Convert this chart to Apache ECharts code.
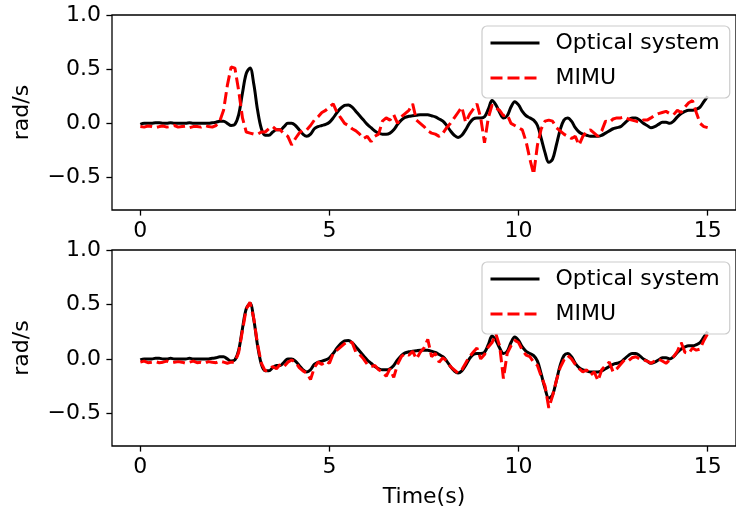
<!DOCTYPE html>
<html>
<head>
<meta charset="utf-8">
<script src="https://cdn.jsdelivr.net/npm/echarts@6/dist/echarts.min.js"></script>
<style>
  html, body { margin: 0; padding: 0; background: #fff; }
  #main { width: 736px; height: 518px; }
</style>
</head>
<body>
<div id="main"></div>
<script>
// sampled every 0.1 s, 0 .. 15 s
const optical = [
  -0.01, 0.0, 0.0, 0.0, 0.005, 0.005, 0.0, 0.0, 0.005, 0.0,
  0.0, 0.0, 0.0, 0.005, 0.0, 0.0, 0.0, 0.0, 0.0, 0.005,
  0.01, 0.02, 0.02, 0.0, -0.02, -0.01, 0.08, 0.28, 0.46, 0.51,
  0.36, 0.12, -0.05, -0.11, -0.11, -0.08, -0.06, -0.06, -0.03, 0.0,
  0.0, -0.02, -0.06, -0.1, -0.12, -0.1, -0.05, -0.03, -0.02, -0.01,
  0.01, 0.05, 0.1, 0.14, 0.165, 0.17, 0.15, 0.11, 0.07, 0.03,
  -0.01, -0.04, -0.07, -0.09, -0.1, -0.1, -0.09, -0.06, -0.01, 0.03,
  0.055, 0.065, 0.07, 0.075, 0.08, 0.08, 0.08, 0.07, 0.06, 0.04,
  0.02, -0.02, -0.07, -0.11, -0.13, -0.11, -0.06, 0.0, 0.04, 0.05,
  0.05, 0.06, 0.13, 0.21, 0.17, 0.1, 0.05, 0.07, 0.15, 0.2,
  0.17, 0.11, 0.07, 0.05, 0.03, -0.02, -0.14, -0.27, -0.36, -0.33,
  -0.2, -0.06, 0.03, 0.05, 0.02, -0.04, -0.08, -0.1, -0.11, -0.12,
  -0.12, -0.12, -0.11, -0.09, -0.07, -0.05, -0.04, -0.03, 0.0, 0.03,
  0.05, 0.05, 0.03, 0.0, -0.02, -0.04, -0.03, -0.01, 0.01, 0.01,
  0.0, 0.02, 0.06, 0.09, 0.11, 0.12, 0.12, 0.13, 0.15, 0.2, 0.25
];

const mimuTop = [
  -0.03, -0.035, -0.025, -0.03, -0.04, -0.03, -0.025, -0.035, -0.03, -0.02,
  -0.035, -0.03, -0.025, -0.04, -0.03, -0.03, -0.035, -0.02, -0.03, -0.035,
  -0.02, 0.02, 0.12, 0.35, 0.52, 0.51, 0.3, 0.05, -0.08, -0.09,
  -0.1, -0.1, -0.08, -0.08, -0.05, -0.03, -0.06, -0.06, -0.1, -0.12,
  -0.2, -0.14, -0.09, -0.06, -0.06, -0.02, 0.03, 0.06, 0.1, 0.12,
  0.15, 0.18, 0.1, 0.05, 0.0, -0.02, -0.05, -0.07, -0.1, -0.14,
  -0.12, -0.17, -0.12, -0.1, 0.02, 0.05, 0.03, 0.08, 0.0, 0.06,
  0.09, 0.12, 0.18, 0.03, 0.0, -0.03, -0.07, -0.09, -0.1, -0.12,
  -0.09, -0.04, 0.0, 0.05, 0.1, 0.15, 0.01, 0.08, 0.13, 0.18,
  0.05, -0.18, 0.05, 0.17, 0.14, 0.12, 0.07, 0.08, 0.0, -0.02,
  -0.04, -0.06, -0.17, -0.33, -0.47, -0.2, -0.05, 0.02, 0.03, 0.02,
  -0.04, -0.07, -0.1, -0.12, -0.14, -0.12, -0.2, -0.12, -0.08, -0.06,
  -0.09, -0.12, -0.07, 0.02, 0.01, 0.04, 0.05, 0.05, 0.06, 0.04,
  0.03, 0.02, 0.01, 0.03, 0.03, 0.05, 0.075, 0.09, 0.1, 0.11,
  0.09, 0.08, 0.12, 0.1, 0.15, 0.19, 0.21, 0.1, 0.0, -0.03, -0.04
];

const mimuBottom = [
  -0.03, -0.02, -0.035, -0.03, -0.025, -0.035, -0.03, -0.02, -0.035, -0.03,
  -0.025, -0.03, -0.04, -0.03, -0.02, -0.035, -0.03, -0.04, -0.025, -0.03,
  -0.035, -0.02, -0.03, -0.04, -0.03, -0.03, 0.06, 0.26, 0.46, 0.52,
  0.37, 0.13, -0.04, -0.11, -0.1, -0.07, -0.09, -0.05, -0.07, -0.03,
  -0.01, -0.03, -0.08, -0.11, -0.13, -0.19, -0.08, -0.03, -0.05, -0.02,
  -0.04, 0.05, 0.08, 0.11, 0.14, 0.16, 0.15, 0.06, 0.04, 0.0,
  -0.05, -0.07, -0.06, -0.1, -0.12, -0.16, -0.09, -0.17, -0.05, 0.02,
  0.05, 0.035, 0.07, 0.0, 0.06, 0.1, 0.18, 0.02, 0.05, -0.03,
  0.01, -0.02, -0.07, -0.1, -0.13, -0.1, -0.04, 0.02, 0.06, 0.1,
  0.0, 0.04, 0.11, 0.15, 0.23, 0.12, -0.18, 0.05, 0.12, 0.17,
  0.15, 0.08, 0.035, 0.02, -0.03, -0.06, -0.16, -0.25, -0.45, -0.34,
  -0.2, -0.08, -0.01, 0.03, 0.0, -0.05, -0.09, -0.12, -0.1, -0.15,
  -0.12, -0.2, -0.1, -0.06, -0.03, -0.12, -0.09, -0.05, -0.01, -0.02,
  0.01, 0.02, 0.0, -0.01, -0.02, -0.04, -0.02, 0.0, -0.02, -0.04,
  -0.01, 0.02, 0.07, 0.15, 0.06, 0.05, 0.1, 0.08, 0.09, 0.17, 0.23
];

const xTicks = [0, 5, 10, 15];
const yTicks = [-0.5, 0, 0.5, 1.0];

const time = optical.map((_, i) => +(i * 0.1).toFixed(1));
const pairs = (vals) => vals.map((v, i) => [time[i], v]);

const font = 'DejaVu Sans';
const fs = 22;

function xAxisOf(gridIndex, withName) {
  return {
    type: 'value', gridIndex: gridIndex, min: -0.75, max: 15.75,
    name: withName ? 'Time(s)' : '', nameLocation: 'middle', nameGap: 40,
    nameTextStyle: { fontFamily: font, fontSize: fs, color: '#000' },
    axisLine: { show: false, onZero: false },
    splitLine: { show: false },
    axisTick: { show: true, customValues: xTicks, length: 5.6, lineStyle: { color: '#000', width: 1.3 } },
    axisLabel: { customValues: xTicks, margin: 10, fontFamily: font, fontSize: fs, color: '#000' }
  };
}

function yAxisOf(gridIndex) {
  return {
    type: 'value', gridIndex: gridIndex, min: -0.8, max: 1.0,
    name: 'rad/s', nameLocation: 'middle', nameGap: 79,
    nameTextStyle: { fontFamily: font, fontSize: fs, color: '#000' },
    axisLine: { show: false, onZero: false },
    splitLine: { show: false },
    axisTick: { show: true, customValues: yTicks, length: 5.6, lineStyle: { color: '#000', width: 1.3 } },
    axisLabel: {
      customValues: yTicks, margin: 11, fontFamily: font, fontSize: fs, color: '#000',
      formatter: (v) => (v < 0 ? '\u2212' : '') + Math.abs(v).toFixed(1)
    }
  };
}

function legendOf(top) {
  return {
    left: 482, top: top, orient: 'vertical',
    data: ['Optical system', 'MIMU'],
    itemWidth: 49, itemHeight: 14, itemGap: 13,
    padding: [6, 10, 9, 7],
    backgroundColor: 'rgba(255,255,255,0.8)',
    borderColor: '#cccccc', borderWidth: 1.2, borderRadius: 5,
    selectedMode: false,
    itemStyle: { opacity: 0 },
    lineStyle: { width: 3 },
    textStyle: { fontFamily: font, fontSize: fs, color: '#000', padding: [0, 0, 0, 11] }
  };
}

function lineOf(name, vals, idx, dashed) {
  return {
    name: name, type: 'line', xAxisIndex: idx, yAxisIndex: idx,
    data: pairs(vals), showSymbol: false, symbol: 'none',
    smooth: dashed ? false : 0.35,
    lineStyle: dashed
      ? { color: '#ff0000', width: 3, type: [12, 5] }
      : { color: '#000000', width: 3 },
    itemStyle: { color: dashed ? '#ff0000' : '#000000' },
    z: dashed ? 3 : 2
  };
}

const myChart = echarts.init(document.getElementById('main'), null, { renderer: 'canvas' });

const option = {
  animation: false,
  backgroundColor: '#fff',
  grid: [
    { left: 112, top: 15, right: -9, height: 195, show: true, borderColor: '#000', borderWidth: 1.3, backgroundColor: 'transparent' },
    { left: 112, top: 250, right: -9, height: 196, show: true, borderColor: '#000', borderWidth: 1.3, backgroundColor: 'transparent' }
  ],
  xAxis: [xAxisOf(0, false), xAxisOf(1, true)],
  yAxis: [yAxisOf(0), yAxisOf(1)],
  legend: [legendOf(26), legendOf(262)],
  series: [
    lineOf('Optical system', optical, 0, false),
    lineOf('MIMU', mimuTop, 0, true),
    lineOf('Optical system', optical, 1, false),
    lineOf('MIMU', mimuBottom, 1, true)
  ]
};

option && myChart.setOption(option);
</script>
</body>
</html>
